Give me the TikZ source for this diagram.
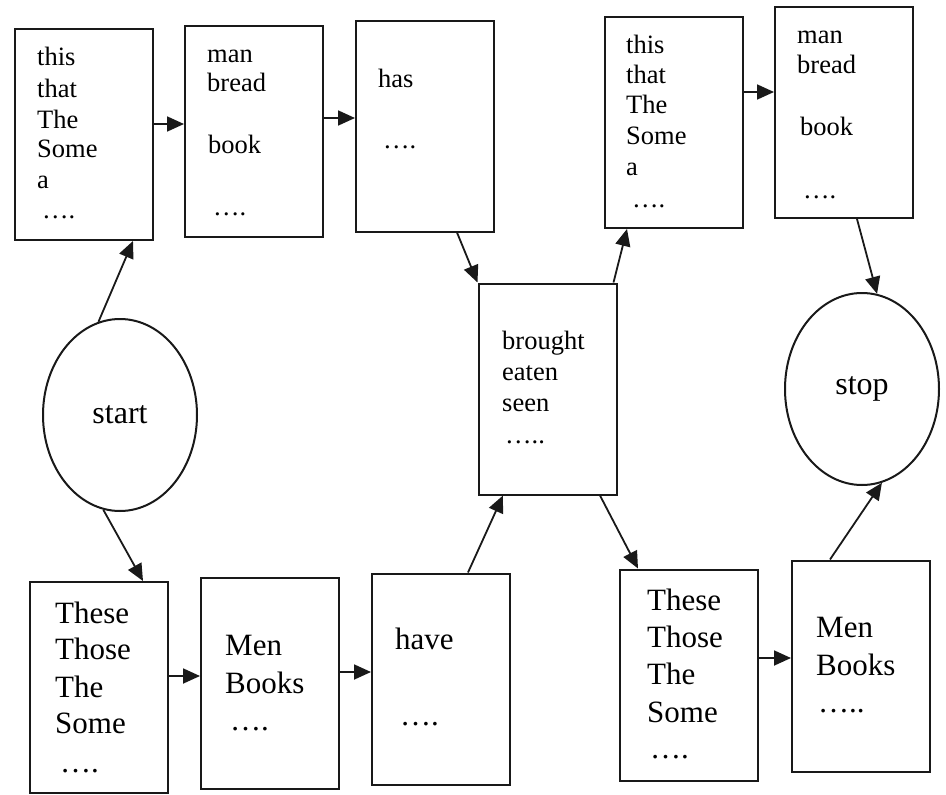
\documentclass[tikz,border=0pt]{standalone}
\usepackage{fontspec}
\setmainfont{Liberation Serif}
\usetikzlibrary{arrows.meta,shapes.geometric,calc}
\tikzset{
  box/.style={draw=black!90, line width=2pt, rectangle, minimum width=138pt, minimum height=211pt, inner sep=0pt},
  oval/.style={draw=black!90, line width=2pt, ellipse, minimum width=154pt, minimum height=192pt, inner sep=0pt, font=\fontsize{32}{36}\selectfont},
  wsm/.style={anchor=base west, inner sep=0pt, font=\fontsize{26.5}{30}\selectfont},
  wbg/.style={anchor=base west, inner sep=0pt, font=\fontsize{31}{36}\selectfont},
  arr/.style={draw=black!90, line width=1.8pt, -{Triangle[length=17pt,width=15pt]}}
}
\begin{document}
\begin{tikzpicture}[x=1pt,y=-1pt]
\useasboundingbox[fill=white] (0,0) rectangle (946,795);
% boxes
\node[box] (box1) at (84,134.5) {};
\node[box] (box2) at (254,131) {};
\node[box] (box3) at (425,126) {};
\node[box] (box4) at (674,122.5) {};
\node[box] (box5) at (844,112.5) {};
\node[box] (brought) at (547.5,389) {};
\node[box] (b1) at (98.5,687.5) {};
\node[box] (b2) at (270,683.5) {};
\node[box] (b3) at (441,679) {};
\node[box] (b4) at (689,675) {};
\node[box] (b5) at (861,666) {};
\node[oval] (start) at (120,415) {start};
\node[oval] (stop) at (862,389) {stop};
% texts
\node[wsm] (t1a) at (37,65) {this};
\node[wsm] (t1b) at (37,97) {that};
\node[wsm] (t1c) at (37,128) {The};
\node[wsm] (t1d) at (37,157) {Some};
\node[wsm] (t1e) at (37,188) {a};
\node[wsm] (t1f) at (42,218) {….};
\node[wsm] (t2a) at (207,62) {man};
\node[wsm] (t2b) at (207,91) {bread};
\node[wsm] (t2c) at (208,153) {book};
\node[wsm] (t2d) at (213,215) {….};
\node[wsm] (t3a) at (378,87) {has};
\node[wsm] (t3b) at (383,148) {….};
\node[wsm] (t4a) at (626,53) {this};
\node[wsm] (t4b) at (626,83) {that};
\node[wsm] (t4c) at (626,113) {The};
\node[wsm] (t4d) at (626,144) {Some};
\node[wsm] (t4e) at (626,175) {a};
\node[wsm] (t4f) at (632,207) {….};
\node[wsm] (t5a) at (797,43) {man};
\node[wsm] (t5b) at (797,73) {bread};
\node[wsm] (t5c) at (800,135) {book};
\node[wsm] (t5d) at (803,198) {….};
\node[wsm] (tma) at (502,349) {brought};
\node[wsm] (tmb) at (502,380) {eaten};
\node[wsm] (tmc) at (502,411) {seen};
\node[wsm] (tmd) at (505,443) {…..};
\node[wbg] (u1a) at (55,623) {These};
\node[wbg] (u1b) at (55,659) {Those};
\node[wbg] (u1c) at (55,697) {The};
\node[wbg] (u1d) at (55,733) {Some};
\node[wbg] (u1e) at (60,772) {….};
\node[wbg] (u2a) at (225,655) {Men};
\node[wbg] (u2b) at (225,693) {Books};
\node[wbg] (u2c) at (230,730) {….};
\node[wbg] (u3a) at (395,649) {have};
\node[wbg] (u3b) at (400,725) {….};
\node[wbg] (u4a) at (647,610) {These};
\node[wbg] (u4b) at (647,647) {Those};
\node[wbg] (u4c) at (647,684) {The};
\node[wbg] (u4d) at (647,722) {Some};
\node[wbg] (u4e) at (650,758) {….};
\node[wbg] (u5a) at (816,637) {Men};
\node[wbg] (u5b) at (816,675) {Books};
\node[wbg] (u5c) at (818,712) {…..};
% connector helper points
\coordinate (a12) at ([yshift=10.5pt]box1.east);
\coordinate (a23) at ([yshift=13pt]box2.east);
\coordinate (a45) at ([yshift=30.5pt]box4.east);
\coordinate (c12) at ([yshift=11.5pt]b1.east);
\coordinate (c23) at ([yshift=11.5pt]b2.east);
\coordinate (c45) at ([yshift=17pt]b4.east);
% connectors
\draw[arr] (start.103) -- ([xshift=49pt]box1.south);
\draw[arr] (start.260) -- ([xshift=44.5pt]b1.north);
\draw[arr] (a12) -- (a12 -| box2.west);
\draw[arr] (a23) -- (a23 -| box3.west);
\draw[arr] ([xshift=32pt]box3.south) -- (brought.north west);
\draw[arr] ([xshift=-4pt]brought.north east) -- ([xshift=-47pt]box4.south);
\draw[arr] (a45) -- (a45 -| box5.west);
\draw[arr] ([xshift=13pt]box5.south) -- (stop.81);
\draw[arr] (c12) -- (c12 -| b2.west);
\draw[arr] (c23) -- (c23 -| b3.west);
\draw[arr] ([xshift=27pt]b3.north) -- ([xshift=-44.5pt]brought.south);
\draw[arr] ([xshift=52.5pt]brought.south) -- ([xshift=-51pt]b4.north);
\draw[arr] (c45) -- (c45 -| b5.west);
\draw[arr] ([xshift=-31pt]b5.north) -- (stop.282);
\end{tikzpicture}
\end{document}
